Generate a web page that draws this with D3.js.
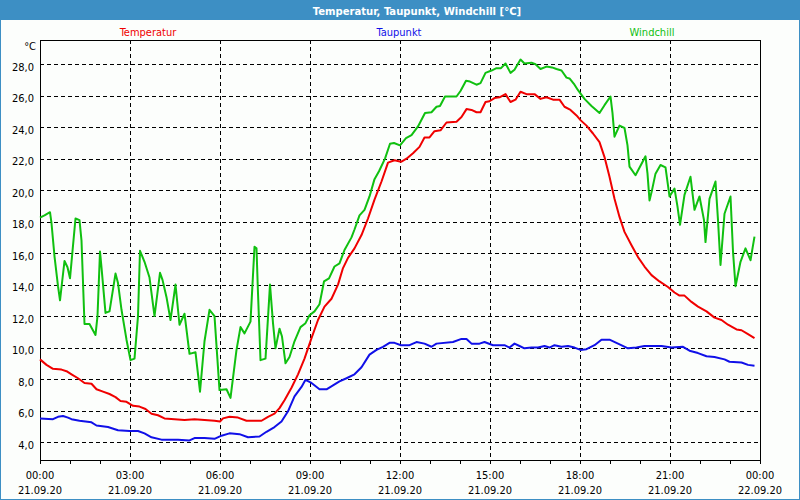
<!DOCTYPE html>
<html>
<head>
<meta charset="utf-8">
<script src="https://cdn.jsdelivr.net/npm/d3@7/dist/d3.min.js"></script>
<style>
  html, body { margin: 0; padding: 0; background: #ffffff; }
  svg { display: block; }
  text { font-family: "DejaVu Sans Condensed", "DejaVu Sans", sans-serif; }
</style>
</head>
<body>
<svg id="chart" width="800" height="500"></svg>
<script>
// ---------- data ----------
const title = "Temperatur, Taupunkt, Windchill [°C]";
const seriesNames = ["Temperatur", "Taupunkt", "Windchill"];
const unitLabel = "°C";

// minutes since 00:00 on 21.09.20
const tempTimes = [0,13,26,43,53,63,76,89,103,113,126,139,151,161,173,186,199,211,223,236,249,269,289,309,329,349,360,366,379,396,413,443,456,469,479,489,503,516,529,543,556,569,583,596,606,616,629,643,656,669,683,696,709,722,733,746,759,769,779,789,801,813,833,843,853,863,873,881,891,899,909,919,931,941,951,961,973,989,1001,1013,1026,1039,1049,1061,1073,1081,1093,1106,1119,1129,1139,1149,1159,1169,1183,1196,1209,1223,1239,1256,1269,1279,1289,1303,1316,1333,1349,1363,1376,1393,1403,1416,1429];
const tempValues = [9.25,8.9,8.65,8.6,8.5,8.3,8.05,7.75,7.7,7.35,7.2,7.05,6.85,6.6,6.55,6.3,6.25,6.1,5.8,5.7,5.5,5.45,5.4,5.45,5.4,5.35,5.3,5.5,5.6,5.55,5.35,5.35,5.6,5.8,6.15,6.65,7.45,8.3,9.3,10.6,11.75,12.6,13.1,14.0,15.05,15.7,16.3,17.15,18.2,19.4,20.55,21.75,21.9,21.8,22.0,22.35,22.75,23.35,23.35,23.75,23.8,24.3,24.35,24.65,25.15,25.1,24.95,24.95,25.6,25.65,25.85,25.9,26.1,25.6,25.75,26.25,26.1,26.1,25.8,25.9,25.75,25.75,25.3,25.1,24.75,24.45,24.1,23.6,23.05,22.1,20.85,19.45,18.3,17.35,16.5,15.75,15.15,14.6,14.2,13.85,13.5,13.3,13.3,12.9,12.6,12.3,11.9,11.75,11.45,11.15,11.1,10.85,10.6];

const dewTimes = [0,26,36,46,56,63,79,103,113,136,156,179,196,209,223,243,276,299,309,329,349,363,379,399,416,439,453,469,483,496,509,523,531,543,559,573,586,599,613,629,643,659,673,686,699,709,722,739,753,769,783,793,826,843,853,863,879,889,906,929,939,949,959,969,983,996,1009,1019,1029,1043,1056,1069,1081,1093,1109,1123,1139,1156,1176,1193,1209,1243,1263,1286,1299,1316,1333,1349,1369,1379,1403,1416,1429];
const dewValues = [5.5,5.45,5.6,5.65,5.55,5.45,5.35,5.25,5.05,4.95,4.75,4.7,4.7,4.55,4.3,4.15,4.15,4.1,4.25,4.25,4.2,4.4,4.55,4.5,4.3,4.35,4.65,4.95,5.3,5.95,6.9,7.5,7.95,7.75,7.35,7.35,7.6,7.85,8.05,8.3,8.75,9.55,9.85,10.05,10.3,10.3,10.15,10.15,10.35,10.25,10.05,10.25,10.35,10.55,10.55,10.25,10.25,10.35,10.15,10.15,10.0,10.25,10.1,9.95,10.0,10.0,10.1,10.0,10.15,10.05,10.1,10.0,9.85,9.9,10.15,10.5,10.5,10.25,9.95,10.0,10.1,10.1,10.0,10.05,9.8,9.65,9.45,9.4,9.25,9.1,9.05,8.9,8.85];

const windTimes = [0,9,20,23,29,36,40,49,55,60,71,79,83,89,99,111,115,120,123,131,139,151,156,163,173,181,189,196,200,209,219,229,240,245,253,261,271,279,289,299,311,320,329,339,349,359,373,381,393,401,409,421,429,433,436,441,451,460,466,471,479,484,491,499,509,521,531,539,549,559,568,578,589,599,609,623,629,639,649,659,669,678,690,700,708,720,732,743,756,770,783,793,800,810,833,841,852,860,873,881,891,903,913,922,931,941,949,961,969,983,991,1001,1013,1024,1033,1043,1053,1059,1069,1076,1089,1103,1119,1129,1141,1145,1149,1159,1169,1175,1179,1191,1201,1211,1215,1219,1224,1231,1241,1251,1259,1269,1275,1280,1289,1301,1309,1319,1328,1331,1339,1351,1356,1361,1369,1381,1386,1391,1401,1411,1421,1429];
const windValues = [18.25,18.4,18.6,17.9,15.8,13.9,13.0,15.5,15.1,14.4,18.2,18.1,16.8,11.5,11.5,10.8,12.0,16.1,15.1,12.2,12.3,14.7,14.1,12.4,10.5,9.2,9.3,12.0,16.15,15.45,14.45,12.0,14.75,14.3,13.2,11.75,14.0,11.45,12.15,9.6,9.7,7.2,10.4,12.4,12.0,7.3,7.35,6.8,9.85,11.3,10.9,11.65,16.4,16.3,13.45,9.2,9.3,14.0,11.55,9.95,11.2,10.7,9.0,9.4,10.4,11.3,11.55,12.05,12.3,12.75,14.2,14.4,15.15,15.35,16.2,17.0,17.5,18.4,18.75,19.6,20.7,21.2,22.0,22.95,23.0,22.85,23.3,23.5,24.05,24.9,24.95,25.3,25.35,25.95,25.95,26.3,26.95,26.9,26.7,26.8,27.45,27.6,27.75,27.75,28.05,27.45,27.65,28.3,28.05,28.1,28.0,27.7,27.85,27.8,27.7,27.6,27.15,27.1,26.7,26.35,25.8,25.35,24.9,25.4,25.95,24.9,23.4,24.1,23.95,22.85,21.5,20.95,21.55,22.15,21.05,19.35,20.0,21.05,21.6,21.45,19.6,20.1,18.95,17.8,19.7,20.85,18.75,19.6,18.1,16.7,19.45,20.55,18.1,15.25,18.5,19.6,16.1,13.9,15.45,16.3,15.55,17.05];

const yTicks = [4,6,8,10,12,14,16,18,20,22,24,26,28];
const xLabelTimes = [0,180,360,540,720,900,1080,1260,1440];
const xLabels = ["00:00","03:00","06:00","09:00","12:00","15:00","18:00","21:00","00:00"];
const xDates = ["21.09.20","21.09.20","21.09.20","21.09.20","21.09.20","21.09.20","21.09.20","21.09.20","22.09.20"];
const xMinorTimes = [0,60,120,180,240,300,360,420,480,540,600,660,720,780,840,900,960,1020,1080,1140,1200,1260,1320,1380,1440];

// ---------- layout ----------
const W = 800, H = 500;
const plot = { left: 40, right: 760, top: 40, bottom: 460 };
const colors = { temp: "#f00000", dew: "#1010e8", wind: "#10c010", frame: "#3d8fc4" };

const svg = d3.select("#chart");

svg.append("rect").attr("x", 0.5).attr("y", 0.5).attr("width", W - 1).attr("height", H - 1)
  .attr("fill", "#fcfefc").attr("stroke", colors.frame).attr("stroke-width", 1);
svg.append("rect").attr("x", 0).attr("y", 0).attr("width", W).attr("height", 20)
  .attr("fill", colors.frame);
svg.append("text").attr("x", W / 2 + 17).attr("y", 11).attr("dy", "0.35em")
  .attr("text-anchor", "middle").attr("fill", "#ffffff")
  .attr("font-size", "11.2px").attr("font-weight", "bold").text(title);

const x = d3.scaleLinear().domain([0, 1440]).range([plot.left, plot.right]);
const y = d3.scaleLinear().domain([4, 28]).range([442, 64.25]);

// grid
const grid = svg.append("g").attr("stroke", "#000").attr("stroke-dasharray", "4,3")
  .attr("shape-rendering", "crispEdges");
grid.selectAll("line.h").data(yTicks).enter().append("line")
  .attr("x1", plot.left).attr("x2", plot.right)
  .attr("y1", d => Math.round(y(d)) + 0.5).attr("y2", d => Math.round(y(d)) + 0.5);
grid.selectAll("line.v").data(xLabelTimes.filter(t => t > 0 && t < 1440)).enter().append("line")
  .attr("y1", plot.top).attr("y2", plot.bottom)
  .attr("x1", d => Math.round(x(d)) + 0.5).attr("x2", d => Math.round(x(d)) + 0.5);

// frame of plot
svg.append("rect").attr("x", plot.left + 0.5).attr("y", plot.top + 0.5)
  .attr("width", plot.right - plot.left).attr("height", plot.bottom - plot.top)
  .attr("fill", "none").attr("stroke", "#000").attr("stroke-width", 1.2)
  .attr("shape-rendering", "crispEdges");

// x axis ticks
const xAxis = d3.axisBottom(x).tickValues(xMinorTimes).tickSize(4).tickFormat("");
const gx = svg.append("g").attr("transform", `translate(0,${plot.bottom})`).call(xAxis);
gx.select(".domain").remove();
gx.selectAll("line").attr("stroke", "#000").attr("shape-rendering", "crispEdges");

const xl = svg.append("g").attr("font-size", "11px").attr("fill", "#000").attr("text-anchor", "middle");
xl.selectAll("text.t").data(xLabelTimes).enter().append("text")
  .attr("x", d => x(d)).attr("y", 479).text((d, i) => xLabels[i]);
xl.selectAll("text.d").data(xLabelTimes).enter().append("text")
  .attr("x", d => x(d)).attr("y", 494).text((d, i) => xDates[i]);

// y axis labels
const yAxis = d3.axisLeft(y).tickValues(yTicks).tickSize(0).tickPadding(6)
  .tickFormat(d => d.toFixed(1).replace(".", ","));
const gy = svg.append("g").attr("transform", `translate(${plot.left},0)`).call(yAxis);
gy.select(".domain").remove();
gy.selectAll("text").attr("font-size", "11px").attr("fill", "#000")
  .attr("font-family", "DejaVu Sans Condensed, DejaVu Sans, sans-serif").attr("dy", "0.55em");

svg.append("text").attr("x", 36).attr("y", 50).attr("text-anchor", "end")
  .attr("font-size", "11px").attr("fill", "#000").text(unitLabel);

// legend
const legendX = [148, 399, 652];
const legendColors = [colors.temp, colors.dew, colors.wind];
svg.selectAll("text.leg").data(seriesNames).enter().append("text")
  .attr("x", (d, i) => legendX[i]).attr("y", 36).attr("text-anchor", "middle")
  .attr("font-size", "11px").attr("fill", (d, i) => legendColors[i]).text(d => d);

// lines
const line = d3.line().x(d => x(d[0])).y(d => y(d[1]));
const drawSeries = (times, values, color) => {
  svg.append("path").datum(times.map((t, i) => [t, values[i]]))
    .attr("d", line).attr("fill", "none").attr("stroke", color)
    .attr("stroke-width", 2).attr("stroke-linejoin", "round");
};
drawSeries(dewTimes, dewValues, colors.dew);
drawSeries(tempTimes, tempValues, colors.temp);
drawSeries(windTimes, windValues, colors.wind);
</script>
</body>
</html>
